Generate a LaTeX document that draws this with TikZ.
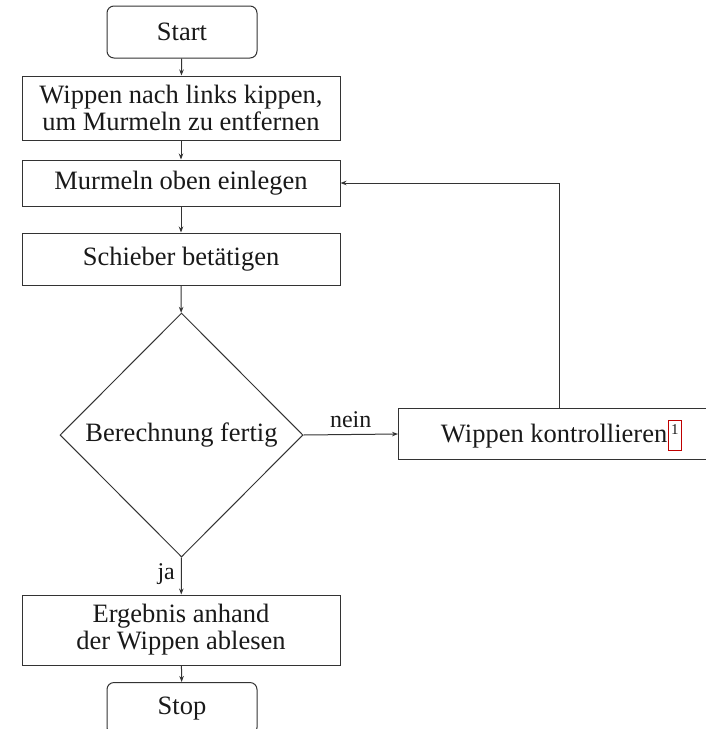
\documentclass[tikz,border=0pt]{standalone}
\usepackage{fontspec}
\setmainfont{Liberation Serif}
\usetikzlibrary{shapes.geometric,arrows.meta}
\begin{document}
\begin{tikzpicture}[x=1pt,y=-1pt,
  every node/.style={font=\fontsize{26.5}{27}\selectfont, text=black!90, inner sep=0pt},
  procbox/.style={draw=black!80, line width=1pt, rectangle, align=center},
  termbox/.style={draw=black!80, line width=1pt, rectangle, rounded corners=7pt, align=center},
  decbox/.style={draw=black!80, line width=1pt, diamond, align=center},
  flow/.style={draw=black!80, line width=1pt, -{Stealth[length=6pt,width=4.5pt]}},
  lbl/.style={font=\fontsize{24}{26}\selectfont}
]
\useasboundingbox (0,0) rectangle (706,729);
\clip (0,0) rectangle (706,729);

\node[termbox, minimum width=150pt, minimum height=52pt] (start) at (182,32) {Start};
\node[procbox, minimum width=318pt, minimum height=64pt] (b1) at (181,108) {Wippen nach links kippen,\\um Murmeln zu entfernen};
\node[procbox, minimum width=318pt, minimum height=46pt] (b2) at (181,183) {Murmeln oben einlegen};
\node[procbox, minimum width=318pt, minimum height=52pt] (b3) at (181,259) {Schieber betätigen};
\node[decbox, minimum width=243pt, minimum height=244pt] (dec) at (181.5,435) {Berechnung fertig};
\node[procbox, minimum width=322pt, minimum height=51pt, anchor=west] (wk) at (398,434) {};
\node[anchor=east] (wkt) at (667.5,436) {Wippen kontrollieren};
\node[draw=red!75!black, line width=0.9pt, minimum width=13pt, minimum height=30pt, anchor=north west] (fn) at (668,420) {};
\node[font=\fontsize{15}{15}\selectfont, anchor=north] (fnt) at (fn.north) [yshift=-4pt] {1};
\node[procbox, minimum width=318pt, minimum height=70pt] (b5) at (181,630) {Ergebnis anhand\\der Wippen ablesen};
\node[termbox, minimum width=150pt, minimum height=52pt, anchor=north] (stop) at (182,682) {Stop};

\draw[flow] (start) -- (b1);
\draw[flow] (b1) -- (b2);
\draw[flow] (b2) -- (b3);
\draw[flow] (b3) -- (dec);
\draw[flow] (dec.east) -- node[lbl, above=6pt] {nein} (wk.west);
\draw[flow] (dec.south) -- node[lbl, left=6pt, pos=0.45] {ja} (b5);
\draw[flow] (b5) -- (stop);
\draw[flow] (wk.north) |- (b2.east);
\end{tikzpicture}
\end{document}
